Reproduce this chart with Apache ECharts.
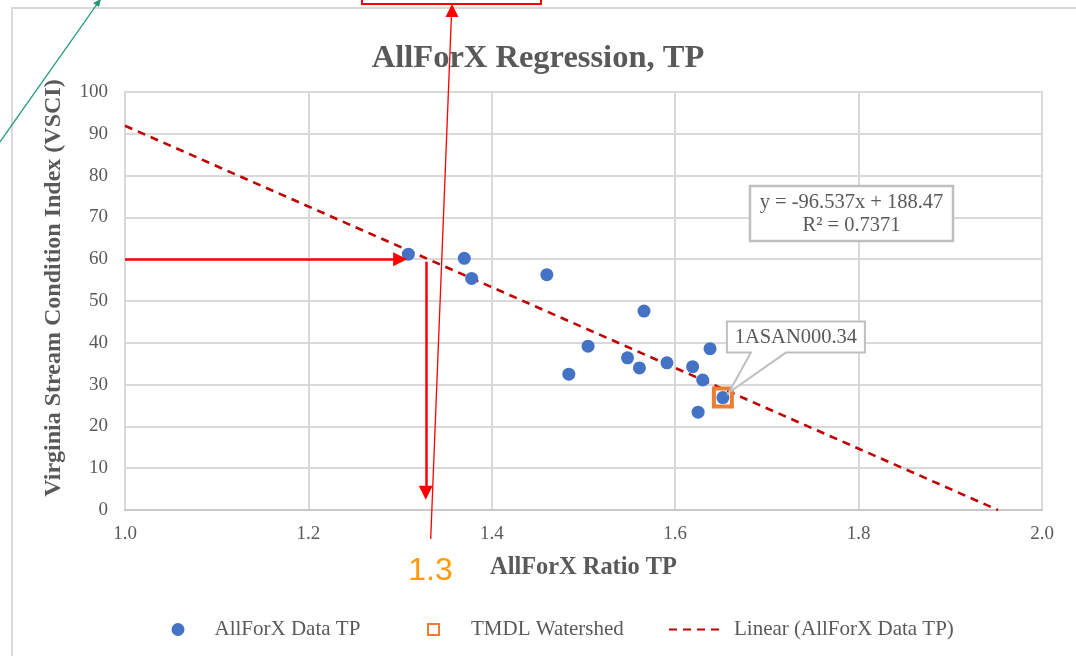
<!DOCTYPE html>
<html>
<head>
<meta charset="utf-8">
<script src="https://cdn.jsdelivr.net/npm/echarts@6/dist/echarts.min.js"></script>
<style>
html,body{margin:0;padding:0;background:#fff;}
#chart{width:1076px;height:656px;}
</style>
</head>
<body>
<div id="chart"></div>
<script>
// ---- data ----
const allforxRatio = [1.309, 1.370, 1.378, 1.460, 1.566, 1.505, 1.484, 1.548, 1.561, 1.591, 1.619, 1.638, 1.630, 1.625, 1.652];
const vsciValues   = [61.2, 60.2, 55.4, 56.3, 47.6, 39.2, 32.5, 36.4, 34.0, 35.2, 34.3, 38.6, 31.1, 23.4, 26.9];
const tmdlRatio = [1.652];
const tmdlVsci  = [26.9];
const trendX = [1.0, 1.952];
const trendY = [91.93, 0];
const arrowH = { y: 60, x0: 1.0, x1: 1.30 };
const arrowV = { x: 1.328, y0: 59.4, y1: 4.1 };
const titleText = 'AllForX Regression, TP';
const xName = 'AllForX Ratio TP';
const yName = 'Virginia Stream Condition Index (VSCI)';
const seriesNames = ['AllForX Data TP', 'TMDL Watershed', 'Linear (AllForX Data TP)'];
const eqLine1 = 'y = -96.537x + 188.47';
const eqLine2 = 'R\u00B2 = 0.7371';
const calloutText = '1ASAN000.34';
const overlayText = '1.3';

const serif = "'Liberation Serif', 'Times New Roman', serif";
const txt = '#595959';

const chart = echarts.init(document.getElementById('chart'), null, {renderer: 'canvas'});

const option = {
  animation: false,
  backgroundColor: '#fff',
  title: {
    text: titleText, left: 'center', top: 37,
    textStyle: {fontFamily: serif, fontSize: 32.5, fontWeight: 'bold', color: txt}
  },
  grid: {left: 125, right: 34, top: 92, bottom: 146, containLabel: false, outerBoundsMode: 'none',
         show: true, borderColor: '#d9d9d9', borderWidth: 2, backgroundColor: 'transparent'},
  xAxis: {
    type: 'value', min: 1.0, max: 2.0, interval: 0.2,
    name: xName, nameLocation: 'middle', nameGap: 46,
    nameTextStyle: {fontFamily: serif, fontSize: 24.4, fontWeight: 'bold', color: txt},
    axisLine: {show: true, onZero: false, lineStyle: {color: '#c8c8c8', width: 2}},
    axisTick: {show: false},
    axisLabel: {margin: 15, fontFamily: serif, fontSize: 19, color: txt, formatter: v => v.toFixed(1)},
    splitLine: {show: true, lineStyle: {color: '#d9d9d9', width: 2}}
  },
  yAxis: {
    type: 'value', min: 0, max: 100, interval: 10,
    name: yName, nameLocation: 'middle', nameGap: 59, nameRotate: 90,
    nameTextStyle: {fontFamily: serif, fontSize: 24, fontWeight: 'bold', color: txt, padding: [0, 0, 0, 26]},
    axisLine: {show: true, lineStyle: {color: '#d9d9d9', width: 2}},
    axisTick: {show: false},
    axisLabel: {margin: 17, fontFamily: serif, fontSize: 19, color: txt},
    splitLine: {show: true, lineStyle: {color: '#d9d9d9', width: 2}}
  },
  legend: [
    {left: 171.5, top: 619, padding: 0, itemWidth: 13, itemHeight: 13, selectedMode: false,
     data: [{name: seriesNames[0], icon: 'circle'}],
     textStyle: {fontFamily: serif, fontSize: 21, color: txt, padding: [0, 0, 0, 25]}},
    {left: 427, top: 619, padding: 0, itemWidth: 11, itemHeight: 11, selectedMode: false,
     data: [{name: seriesNames[1], icon: 'rect'}],
     textStyle: {fontFamily: serif, fontSize: 21, color: txt, padding: [0, 0, 0, 27]}},
    {left: 668, top: 619, padding: 0, itemWidth: 50, itemHeight: 13, selectedMode: false,
     itemStyle: {opacity: 0},
     data: [{name: seriesNames[2]}],
     textStyle: {fontFamily: serif, fontSize: 21, color: txt, padding: [0, 0, 0, 10]}}
  ],
  series: [
    {
      name: seriesNames[2], type: 'line', symbol: 'none', silent: true, z: 3,
      data: trendX.map((x, i) => [x, trendY[i]]),
      lineStyle: {color: '#C00000', width: 2.6, type: [8, 6]},
      itemStyle: {color: '#C00000'}
    },
    {
      name: seriesNames[0], type: 'scatter', symbol: 'circle', symbolSize: 13, z: 4,
      data: allforxRatio.map((x, i) => [x, vsciValues[i]]),
      itemStyle: {color: '#4472C4', opacity: 1}
    },
    {
      name: seriesNames[1], type: 'scatter', symbol: 'rect', symbolSize: 18, z: 5,
      data: tmdlRatio.map((x, i) => [x, tmdlVsci[i]]),
      itemStyle: {color: 'rgba(255,255,255,0)', borderColor: '#ED7D31', borderWidth: 4, opacity: 1}
    },
    {
      name: 'arrows', type: 'scatter', data: [], silent: true, z: 6,
      markLine: {
        silent: true, animation: false,
        symbol: ['none', 'triangle'], symbolSize: 14,
        label: {show: false},
        lineStyle: {color: '#FF0000', width: 2.5, type: 'solid'},
        emphasis: {disabled: true},
        data: [
          [{coord: [arrowH.x0, arrowH.y]}, {coord: [arrowH.x1, arrowH.y]}],
          [{coord: [arrowV.x, arrowV.y0]}, {coord: [arrowV.x, arrowV.y1]}]
        ]
      }
    }
  ]
};
chart.setOption(option);

// annotations anchored to data positions
const p = chart.convertToPixel({xAxisIndex: 0, yAxisIndex: 0}, [tmdlRatio[0], tmdlVsci[0]]);
const L = p[0] + 4, T = p[1] - 76, R = p[0] + 142, B = p[1] - 45;
const calloutShape = [[L, T], [R, T], [R, B], [L + 59, B], [p[0] + 6, p[1] - 5], [L + 24, B], [L, B]];

const graphics = [
  // outer chart frame
  {type: 'rect', silent: true, z: 0, shape: {x: 12, y: 8, width: 1100, height: 700},
   style: {fill: 'none', stroke: '#d9d9d9', lineWidth: 2}},
  // equation box
  {type: 'rect', silent: true, z: 20, shape: {x: 750, y: 186, width: 203, height: 55},
   style: {fill: '#fff', stroke: '#bfbfbf', lineWidth: 2.5}},
  {type: 'text', silent: true, z: 21, x: 851.5, y: 203,
   style: {text: eqLine1, fill: txt, font: "20.5px " + serif, textAlign: 'center', textVerticalAlign: 'middle'}},
  {type: 'text', silent: true, z: 21, x: 851.5, y: 226,
   style: {text: eqLine2, fill: txt, font: "20.5px " + serif, textAlign: 'center', textVerticalAlign: 'middle'}},
  // callout
  {type: 'polygon', silent: true, z: 20, shape: {points: calloutShape},
   style: {fill: '#fff', stroke: '#bfbfbf', lineWidth: 2}},
  {type: 'text', silent: true, z: 21, x: (L + R) / 2, y: (T + B) / 2 + 1,
   style: {text: calloutText, fill: txt, font: "20.5px " + serif, textAlign: 'center', textVerticalAlign: 'middle'}},
  // overlay: green line
  {type: 'line', silent: true, z: 30, shape: {x1: 0, y1: 142, x2: 100, y2: 0},
   style: {stroke: '#23997a', lineWidth: 1.3}},
  {type: 'polygon', silent: true, z: 30, shape: {points: [[101, -1], [93, 3], [99, 7]]},
   style: {fill: '#23997a'}},
  // overlay: red box at top
  {type: 'rect', silent: true, z: 30, shape: {x: 362, y: -10, width: 179, height: 14},
   style: {fill: 'none', stroke: '#FF0000', lineWidth: 2}},
  // overlay: thin red pointer line
  {type: 'line', silent: true, z: 30, shape: {x1: 430.7, y1: 539, x2: 451.4, y2: 16},
   style: {stroke: '#FF0000', lineWidth: 1.3}},
  {type: 'polygon', silent: true, z: 30, shape: {points: [[452, 4], [445.5, 17], [458.5, 17]]},
   style: {fill: '#FF0000'}},
  // overlay: orange 1.3
  {type: 'text', silent: true, z: 30, x: 430.5, y: 571,
   style: {text: overlayText, fill: '#FF9A00', font: "32px 'Liberation Sans', 'Open Sans', sans-serif",
           textAlign: 'center', textVerticalAlign: 'middle'}}
];
chart.setOption({graphic: graphics});
</script>
</body>
</html>
